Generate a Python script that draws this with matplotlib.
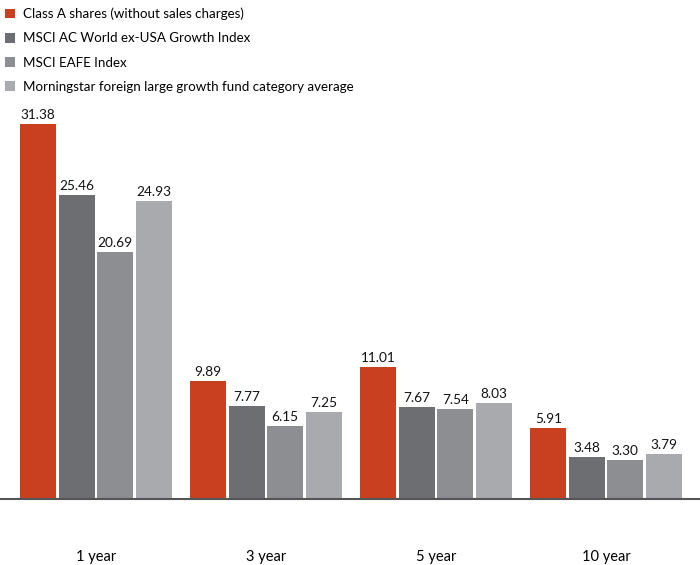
import numpy as np
import matplotlib.pyplot as plt
from matplotlib.patches import Patch

periods = ['1 year', '3 year', '5 year', '10 year']
series = ['Class A shares (without sales charges)',
          'MSCI AC World ex-USA Growth Index',
          'MSCI EAFE Index',
          'Morningstar foreign large growth fund category average']
class_a = [31.38, 9.89, 11.01, 5.91]
acwi_growth = [25.46, 7.77, 7.67, 3.48]
eafe = [20.69, 6.15, 7.54, 3.30]
morningstar = [24.93, 7.25, 8.03, 3.79]
colors = ['#C8401F', '#6D6E71', '#8D8E91', '#A9AAAD']

plt.rcParams['font.family'] = ['Lato', 'DejaVu Sans']

fig = plt.figure(figsize=(7, 5.65), dpi=100)
# axes spans full width; baseline at y=499px, 11.95 px per unit
ymax = 35
ax = fig.add_axes([0, 1 - 499 / 565, 1, ymax * 11.95 / 565])

x = np.arange(len(periods))
w = 36 / 170
step = 38.5 / 170
data = [class_a, acwi_growth, eafe, morningstar]
for i, (vals, c) in enumerate(zip(data, colors)):
    pos = x + (i - 1.5) * step
    bars = ax.bar(pos, vals, width=w, color=c, zorder=2)
    for b, v in zip(bars, vals):
        ax.text(b.get_x() + b.get_width() / 2, v + 0.25, '%.2f' % v,
                ha='center', va='bottom', fontsize=9.8, color='#111111')

ax.set_xlim(-96 / 170, 604 / 170)
ax.set_ylim(0, ymax)
ax.set_xticks(x)
ax.set_xticklabels(periods, fontsize=10.5)
ax.tick_params(axis='x', length=0, pad=36.5)
ax.set_yticks([])
for s in ['top', 'left', 'right']:
    ax.spines[s].set_visible(False)
ax.spines['bottom'].set_color('#555555')
ax.spines['bottom'].set_linewidth(1.5)

handles = [Patch(facecolor=c, edgecolor='none') for c in colors]
fig.legend(handles, series, loc='upper left', bbox_to_anchor=(-0.006, 1.003),
           frameon=False, fontsize=9.6, handlelength=0.75, handleheight=0.75,
           handletextpad=0.6, labelspacing=0.92, borderaxespad=0.3)

fig.savefig('out.png', dpi=100)
